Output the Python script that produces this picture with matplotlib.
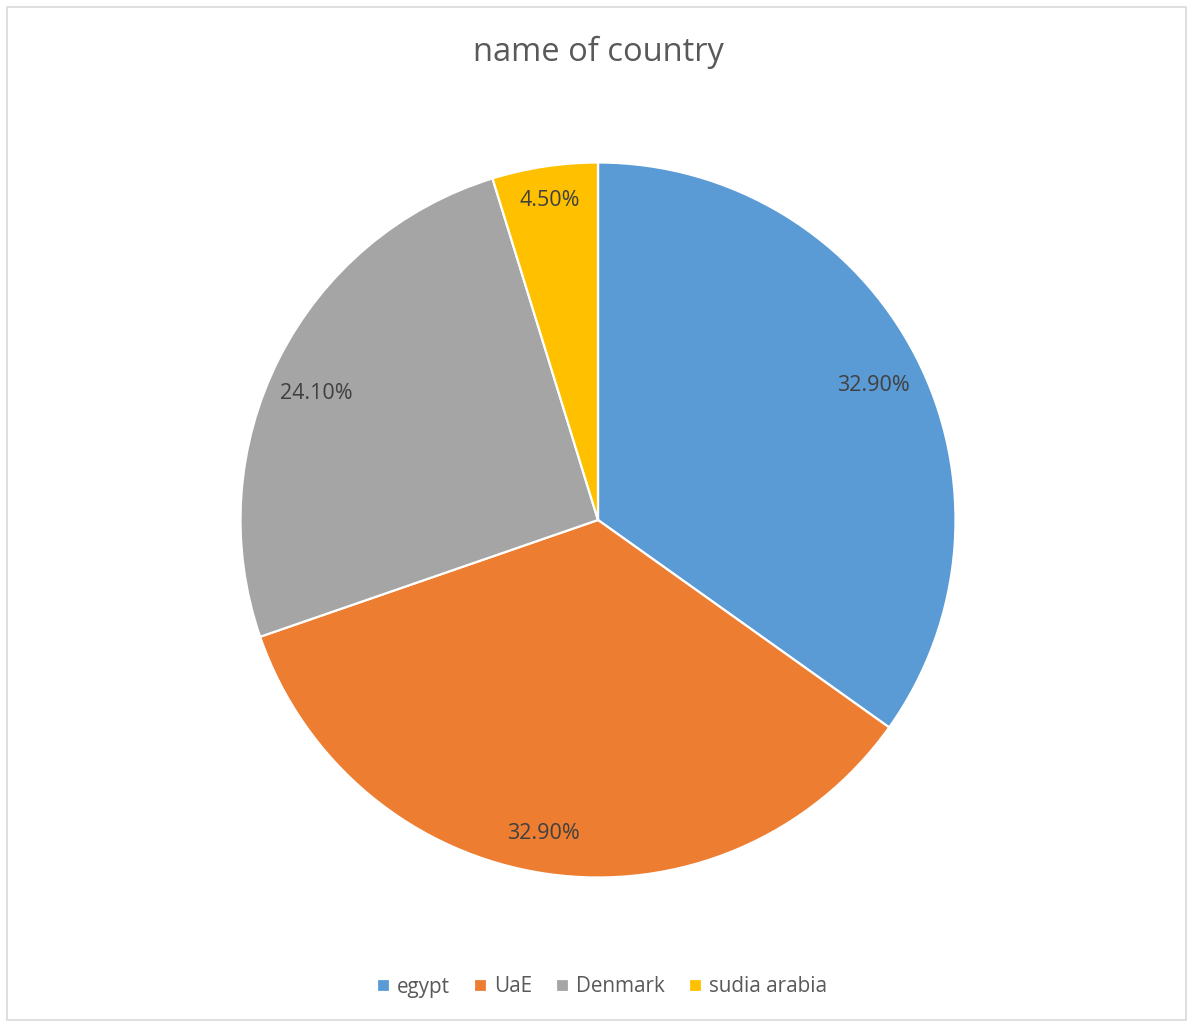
import numpy as np
import matplotlib.pyplot as plt
from matplotlib.patches import Rectangle

plt.rcParams['font.family'] = ['Open Sans', 'DejaVu Sans']

# data
countries = ["egypt", "UaE", "Denmark", "sudia arabia"]
values = [0.329, 0.329, 0.241, 0.045]
labels = ["32.90%", "32.90%", "24.10%", "4.50%"]
colors = ["#5B9BD5", "#ED7D31", "#A5A5A5", "#FFC000"]
# Excel's "best fit" label placement: fraction of radius and small angle shift (deg, clockwise)
label_r = [0.86, 0.882, 0.867, 0.911]
label_shift = [0.9, 1.8, -2.3, 0.0]

W, H = 1187, 1021
fig = plt.figure(figsize=(W / 100, H / 100), dpi=100)
ax = fig.add_axes([0, 0, 1, 1])

cx, cy, R = 598, H - 520, 357.5
wedges, _ = ax.pie(values, colors=colors, startangle=90, counterclock=False,
                   center=(cx, cy), radius=R,
                   wedgeprops=dict(edgecolor="white", linewidth=1.6))
ax.set_xlim(0, W)
ax.set_ylim(0, H)
ax.axis("off")

for w, lab, r, sh in zip(wedges, labels, label_r, label_shift):
    mid = np.radians((w.theta1 + w.theta2) / 2 - sh)
    ax.text(cx + r * R * np.cos(mid), cy + r * R * np.sin(mid), lab,
            ha="center", va="center_baseline", fontsize=15.5, color="#404040")

ax.text(cx, H - 52, "name of country", ha="center", va="center",
        fontsize=23.5, color="#595959")

ax.legend(wedges, countries, loc="center", bbox_to_anchor=(cx + 4, H - 987),
          bbox_transform=ax.transData, ncol=4, frameon=False,
          handlelength=0.62, handleheight=0.62, handletextpad=0.35,
          columnspacing=1.15, fontsize=14.9, labelcolor="#595959")

ax.add_patch(Rectangle((7, 1), W - 8, H - 8, fill=False, edgecolor="#D9D9D9", lw=1.2))

fig.savefig("out.png", dpi=100)
